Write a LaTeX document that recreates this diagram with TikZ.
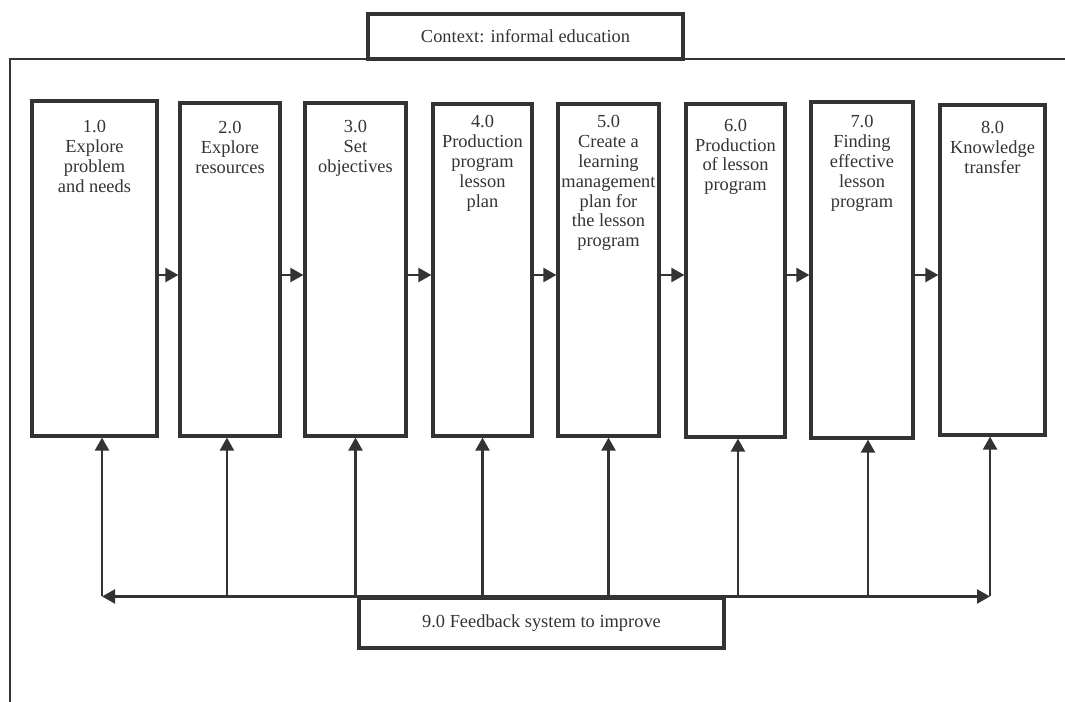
\documentclass[tikz,border=0pt]{standalone}
\usepackage{fontspec}
\setmainfont{Liberation Serif}
\usepackage{xcolor}
\usepackage{tikz}
\usetikzlibrary{arrows.meta,positioning,fit}
\definecolor{inkgray}{HTML}{333333}

\begin{document}
\begin{tikzpicture}[x=0.652pt, y=-0.652pt,
    every node/.style={font=\fontsize{12}{13}\selectfont, text=inkgray},
    stage/.style={draw=inkgray, line width=2pt, inner sep=0pt},
    stagetext/.style={inner sep=0pt, align=center},
    flow/.style={-{Triangle[length=8.5pt, width=9pt]}, line width=1.8pt, draw=inkgray}]
    \useasboundingbox (0,0) rectangle (1065,702);
    % frame and context
    \draw[inkgray, line width=1.8pt] (10,702) -- (10,59) -- (1065,59);
    \node[stage, fit={(368,14) (683,59)}] (ctx) {};
    \node (ctxtext) at (ctx.center) {Context: informal education};
    % stages
    \foreach \i/\xa/\ya/\xb/\yb in {1/32/101/157/436, 2/180/103/280/436, 3/305/103/406/436, 4/433/104/532/436,
        5/558/104/659/436, 6/686/104/785/437, 7/811/102/913/438, 8/940/105/1045/435}
      \node[stage, fit={(\xa,\ya) (\xb,\yb)}] (s\i) {};
    \node[stagetext, below=13.2pt of s1.north] (t1) {1.0\\Explore\\problem\\and needs};
    \node[stagetext, below=12.5pt of s2.north] (t2) {2.0\\Explore\\resources};
    \node[stagetext, below=11.9pt of s3.north] (t3) {3.0\\Set\\objectives};
    \node[stagetext, below=8pt of s4.north] (t4) {4.0\\Production\\program\\lesson\\plan};
    \node[stagetext, below=8pt of s5.north] (t5) {5.0\\Create a\\learning\\management\\plan for\\the lesson\\program};
    \node[stagetext, below=10.5pt of s6.north] (t6) {6.0\\Production\\of lesson\\program};
    \node[stagetext, below=9.3pt of s7.north] (t7) {7.0\\Finding\\effective\\lesson\\program};
    \node[stagetext, below=11.2pt of s8.north] (t8) {8.0\\Knowledge\\transfer};
    \coordinate (row) at (0,275);
    \foreach \i/\j in {1/2,2/3,3/4,4/5,5/6,6/7,7/8}
      \draw[flow] (s\i.east |- row) -- (s\j.west |- row);
    % feedback
    \node[stage, fit={(359,598) (724,648)}] (fb) {};
    \node (fbtext) at (fb.center) {9.0 Feedback system to improve};
    \foreach \i/\dx in {1/4.9pt,2/-2pt,3/0pt,4/0pt,5/0pt,6/1.6pt,7/3.9pt,8/-1.6pt}
      \coordinate (up\i) at ([xshift=\dx]s\i.south);
    \draw[flow] (fb.north) -- (up1 |- fb.north);
    \draw[flow] (fb.north) -- (up8 |- fb.north);
    \foreach \i in {1,...,8}
      \draw[flow] (up\i |- fb.north) -- (up\i);
\end{tikzpicture}
\end{document}
